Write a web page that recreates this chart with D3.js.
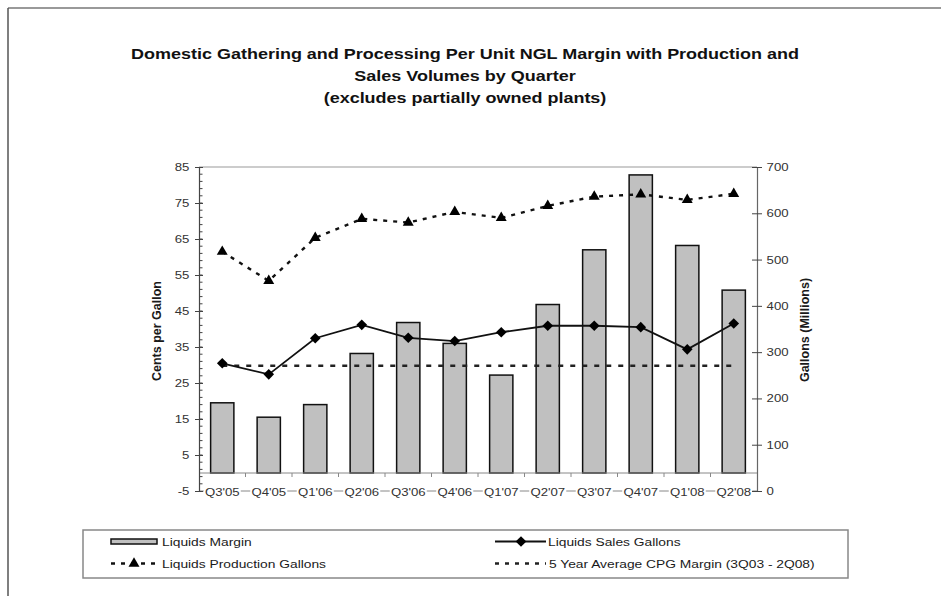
<!DOCTYPE html>
<html><head><meta charset="utf-8">
<script src="https://cdn.jsdelivr.net/npm/d3@7"></script>
<style>
html,body{margin:0;padding:0;background:#fff;}
svg{display:block;font-family:"Liberation Sans",Arial,sans-serif;}
</style></head>
<body>
<svg id="c" width="941" height="596"></svg>
<script>
const categories = ["Q3'05","Q4'05","Q1'06","Q2'06","Q3'06","Q4'06","Q1'07","Q2'07","Q3'07","Q4'07","Q1'08","Q2'08"];
const liquidsMargin = [19.5,15.5,19.0,33.2,41.8,36.0,27.2,46.8,62.0,82.8,63.2,50.8];
const liquidsSalesGallons = [276,252,330,359,331,324,343,357,357,354,306,362];
const liquidsProductionGallons = [517,454,547,588,580,603,590,616,636,641,629,642];
const fiveYearAvgMargin = 29.8;
const leftTicks = [-5,5,15,25,35,45,55,65,75,85];
const rightTicks = [0,100,200,300,400,500,600,700];
const titleLines = ["Domestic Gathering and Processing Per Unit NGL Margin with Production and","Sales Volumes by Quarter","(excludes partially owned plants)"];
const legendLabels = ["Liquids Margin","Liquids Production Gallons","Liquids Sales Gallons","5 Year Average CPG Margin (3Q03 - 2Q08)"];

const SX = 1.2; // horizontal text stretch
const svg = d3.select("#c");
const L = 199, R = 757, T = 167, B = 491;

const x = d3.scaleBand().domain(categories).range([L, R]).paddingInner(0.5).paddingOuter(0.25);
const yL = d3.scaleLinear().domain([-5, 85]).range([B, T]);
const yR = d3.scaleLinear().domain([0, 700]).range([B, T]);
const cx = c => x(c) + x.bandwidth() / 2;
const fmt = d => String(d);

function stext(g, tx, ty, str, size, weight, anchor) {
  return g.append("text").attr("transform", `translate(${tx},${ty}) scale(${SX},1)`)
    .attr("text-anchor", anchor || "start").attr("font-size", size).attr("font-weight", weight || "normal")
    .attr("fill", "#1a1a1a").text(str);
}

// outer frame lines
svg.append("line").attr("x1", 8).attr("y1", 8).attr("x2", 941).attr("y2", 8).attr("stroke", "#777").attr("stroke-width", 1.5);
svg.append("line").attr("x1", 8).attr("y1", 8).attr("x2", 8).attr("y2", 596).attr("stroke", "#555").attr("stroke-width", 1.5);

// title
titleLines.forEach((t, i) => stext(svg, 465, 59 + i * 22, t, 15, "bold", "middle").attr("fill", "#111"));

// plot frame top and bottom
svg.append("line").attr("x1", L).attr("x2", R).attr("y1", T).attr("y2", T).attr("stroke", "#999").attr("stroke-width", 1);
svg.append("line").attr("x1", L).attr("x2", R).attr("y1", B).attr("y2", B).attr("stroke", "#888").attr("stroke-width", 1);

// bars
svg.append("g").selectAll("rect").data(categories).join("rect")
  .attr("x", d => x(d)).attr("width", x.bandwidth())
  .attr("y", (d, i) => yL(liquidsMargin[i])).attr("height", (d, i) => yL(0) - yL(liquidsMargin[i]))
  .attr("fill", "#c0c0c0").attr("stroke", "#111").attr("stroke-width", 1.5);

// x axis line at zero
svg.append("line").attr("x1", L).attr("x2", R).attr("y1", yL(0)).attr("y2", yL(0)).attr("stroke", "#888").attr("stroke-width", 1);
const bounds = d3.range(1, categories.length).map(i => x(categories[i]) - x.step() * x.paddingInner() / 2);
svg.append("g").selectAll("line").data(bounds).join("line")
  .attr("x1", d => d).attr("x2", d => d).attr("y1", yL(0)).attr("y2", yL(0) + 4).attr("stroke", "#888");

// x labels with white backing
const xl = svg.append("g");
categories.forEach(c => {
  const t = stext(xl, cx(c), 495.5, c, 11, "normal", "middle").attr("fill", "#333");
  const bb = t.node().getBBox();
  const w = bb.width * SX;
  xl.insert("rect", "text").attr("x", cx(c) - w / 2 - 1).attr("y", 486).attr("width", w + 2).attr("height", 12).attr("fill", "#fff");
});

// average line
svg.append("line").attr("x1", cx(categories[0])).attr("x2", cx(categories[categories.length - 1]))
  .attr("y1", yL(fiveYearAvgMargin)).attr("y2", yL(fiveYearAvgMargin))
  .attr("stroke", "#222").attr("stroke-width", 2.5).attr("stroke-dasharray", "5,7");

// production line (dashed) with triangles
const lineR = d3.line().x((d, i) => cx(categories[i])).y(d => yR(d));
svg.append("path").datum(liquidsProductionGallons).attr("d", lineR).attr("fill", "none")
  .attr("stroke", "#111").attr("stroke-width", 2.4).attr("stroke-dasharray", "4,6");
const tri = d3.symbol().type(d3.symbolTriangle).size(52);
svg.append("g").selectAll("path").data(liquidsProductionGallons).join("path")
  .attr("d", tri).attr("transform", (d, i) => `translate(${cx(categories[i])},${yR(d)})`).attr("fill", "#000");

// sales line with diamonds
svg.append("path").datum(liquidsSalesGallons).attr("d", lineR).attr("fill", "none")
  .attr("stroke", "#111").attr("stroke-width", 1.8);
const dia = d3.symbol().type(d3.symbolDiamond2).size(72);
svg.append("g").selectAll("path").data(liquidsSalesGallons).join("path")
  .attr("d", dia).attr("transform", (d, i) => `translate(${cx(categories[i])},${yR(d)})`).attr("fill", "#000");

// left axis
const gL = svg.append("g").attr("transform", `translate(${L},0)`)
  .call(d3.axisLeft(yL).tickValues(leftTicks).tickSize(4).tickPadding(4).tickFormat(fmt));
gL.select(".domain").attr("stroke", "#444").attr("stroke-width", 1.2);
gL.selectAll(".tick line").attr("stroke", "#444").attr("x2", -4).attr("x1", 4);
gL.selectAll("text").attr("font-size", 11).attr("fill", "#333").attr("font-family", "Liberation Sans, Arial, sans-serif")
  .attr("transform", `scale(${SX},1)`);
const minor = d3.range(-3, 85, 2);
gL.append("g").selectAll("line").data(minor).join("line")
  .attr("x1", 0).attr("x2", 3.5).attr("y1", d => yL(d)).attr("y2", d => yL(d)).attr("stroke", "#444");

// right axis
const gR = svg.append("g").attr("transform", `translate(${R},0)`)
  .call(d3.axisRight(yR).tickValues(rightTicks).tickSize(5).tickPadding(3).tickFormat(fmt));
gR.select(".domain").attr("stroke", "#666").attr("stroke-width", 1.2);
gR.selectAll(".tick line").attr("stroke", "#444").attr("x1", -5).attr("x2", 5);
gR.selectAll("text").attr("font-size", 11).attr("fill", "#333").attr("font-family", "Liberation Sans, Arial, sans-serif")
  .attr("transform", `scale(${SX},1)`);

// axis titles
svg.append("text").attr("transform", `translate(161,331) rotate(-90)`).attr("text-anchor", "middle")
  .attr("font-size", 12.5).attr("font-weight", "bold").attr("fill", "#1a1a1a").text("Cents per Gallon");
svg.append("text").attr("transform", `translate(809,330) rotate(-90)`).attr("text-anchor", "middle")
  .attr("font-size", 12.5).attr("font-weight", "bold").attr("fill", "#1a1a1a").text("Gallons (Millions)");

// legend
const lg = svg.append("g");
lg.append("rect").attr("x", 83).attr("y", 530).attr("width", 765).attr("height", 48)
  .attr("fill", "#fff").attr("stroke", "#888").attr("stroke-width", 1.5);
const r1 = 541.5, r2 = 563.5;
lg.append("rect").attr("x", 111).attr("y", r1 - 2.5).attr("width", 46).attr("height", 5)
  .attr("fill", "#c0c0c0").attr("stroke", "#111").attr("stroke-width", 1.5);
stext(lg, 162, r1 + 4, legendLabels[0], 11.5);
lg.append("line").attr("x1", 111).attr("x2", 157).attr("y1", r2).attr("y2", r2)
  .attr("stroke", "#111").attr("stroke-width", 2.4).attr("stroke-dasharray", "4,6");
lg.append("path").attr("d", tri).attr("transform", `translate(134,${r2})`).attr("fill", "#000");
stext(lg, 162, r2 + 4, legendLabels[1], 11.5);
lg.append("line").attr("x1", 495).attr("x2", 546).attr("y1", r1).attr("y2", r1).attr("stroke", "#111").attr("stroke-width", 1.8);
lg.append("path").attr("d", dia).attr("transform", `translate(521,${r1})`).attr("fill", "#000");
stext(lg, 548, r1 + 4, legendLabels[2], 11.5);
lg.append("line").attr("x1", 495).attr("x2", 546).attr("y1", r2).attr("y2", r2)
  .attr("stroke", "#222").attr("stroke-width", 2.5).attr("stroke-dasharray", "4,6");
stext(lg, 549, r2 + 4, legendLabels[3], 11.5);
</script>
</body></html>
